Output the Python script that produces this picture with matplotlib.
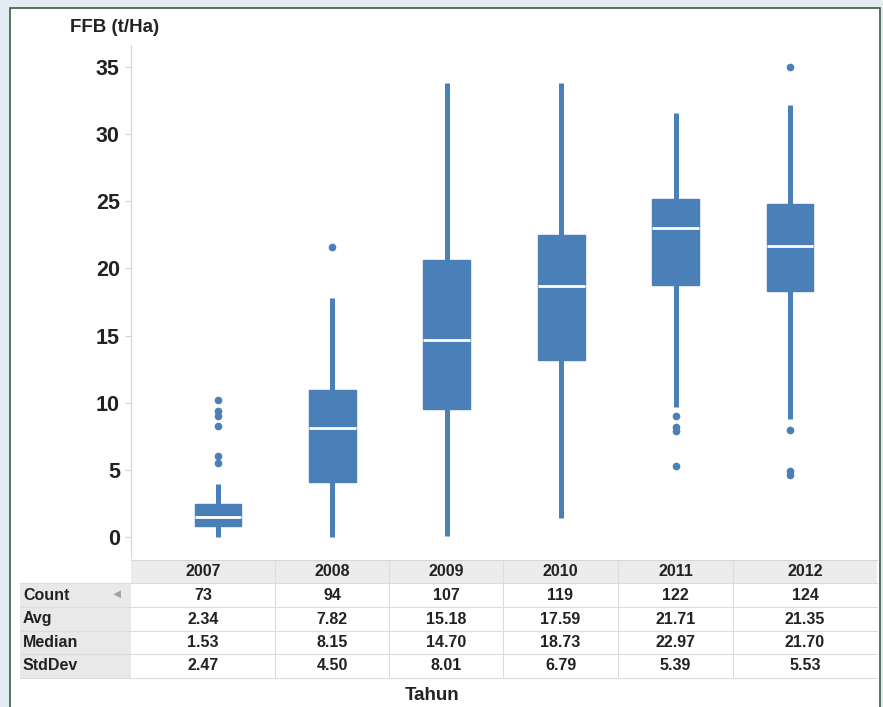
import matplotlib
matplotlib.use('Agg')
import matplotlib.pyplot as plt
from matplotlib.patches import Rectangle

plt.rcParams['font.family'] = ['Liberation Sans', 'DejaVu Sans']

# box plot statistics per year
years = ['2007', '2008', '2009', '2010', '2011', '2012']
whis_lo = [0.0, 0.0, 0.1, 1.4, 9.7, 8.8]
q1 = [0.82, 4.1, 9.5, 13.2, 18.8, 18.3]
median = [1.5, 8.1, 14.7, 18.7, 23.0, 21.7]
q3 = [2.46, 10.95, 20.6, 22.5, 25.2, 24.8]
whis_hi = [3.95, 17.8, 33.8, 33.8, 31.6, 32.2]
fliers = [
    [10.2, 9.4, 9.0, 8.3, 6.0, 5.5],
    [21.6],
    [],
    [],
    [9.0, 8.2, 7.9, 5.3],
    [35.0, 8.0, 4.9, 4.6],
]

# summary table
row_names = ['Count', 'Avg', 'Median', 'StdDev']
counts = ['73', '94', '107', '119', '122', '124']
avgs = ['2.34', '7.82', '15.18', '17.59', '21.71', '21.35']
medians = ['1.53', '8.15', '14.70', '18.73', '22.97', '21.70']
stddevs = ['2.47', '4.50', '8.01', '6.79', '5.39', '5.53']

box_color = '#4a7fb8'
text_color = '#222222'
W, H = 883, 707

fig = plt.figure(figsize=(W / 100, H / 100), dpi=100)
fig.patch.set_facecolor('#e3ebf3')

# background layer in pixel coordinates: panel, title, table
bg = fig.add_axes([0, 0, 1, 1], zorder=0)
bg.set_xlim(0, W)
bg.set_ylim(H, 0)
bg.axis('off')
bg.add_patch(Rectangle((10, 8), 870, 720, facecolor='white', edgecolor='#3b5e3b', lw=1.2))
bg.text(70, 27, 'FFB (t/Ha)', fontsize=13.5, fontweight='bold', color=text_color, va='center', ha='left')

# table
col_edges = [131, 275, 389, 503, 618, 733, 877]
row_edges = [583, 607, 631, 654, 678]
bg.add_patch(Rectangle((131, 560), 877 - 131, 23, facecolor='#ececec', edgecolor='none'))
bg.add_patch(Rectangle((20, 583), 111, 95, facecolor='#e9e9e9', edgecolor='none'))
for y in row_edges:
    bg.plot([20, 877], [y, y], color='#dcdcdc', lw=0.8)
bg.plot([131, 877], [560, 560], color='#d6d6d6', lw=0.8)
for x in col_edges[1:-1]:
    bg.plot([x, x], [560, 678], color='#dcdcdc', lw=0.8)

rows = [counts, avgs, medians, stddevs]
fs = 11.5
for i, yr in enumerate(years):
    cx = (col_edges[i] + col_edges[i + 1]) / 2
    bg.text(cx, 572, yr, fontsize=fs, fontweight='bold', color=text_color, ha='center', va='center')
    for j, vals in enumerate(rows):
        cy = (row_edges[j] + row_edges[j + 1]) / 2
        bg.text(cx, cy, vals[i], fontsize=fs, fontweight='bold', color=text_color, ha='center', va='center')
for j, name in enumerate(row_names):
    cy = (row_edges[j] + row_edges[j + 1]) / 2
    bg.text(23, cy, name, fontsize=fs, fontweight='bold', color=text_color, ha='left', va='center')
bg.text(117, (row_edges[0] + row_edges[1]) / 2, '\u25c4', fontsize=9, color='#a0a0a0', ha='center', va='center')
bg.text(432, 696, 'Tahun', fontsize=13.5, fontweight='bold', color=text_color, ha='center', va='center')

# main box plot
ax = fig.add_axes([131 / W, (H - 558) / H, (877 - 131) / W, (558 - 45) / H], zorder=1)
ax.set_facecolor('none')
stats = []
for i in range(len(years)):
    stats.append(dict(label=years[i], whislo=whis_lo[i], q1=q1[i], med=median[i],
                      q3=q3[i], whishi=whis_hi[i], fliers=fliers[i]))
ax.bxp(stats, positions=range(len(years)), widths=0.41, patch_artist=True, showcaps=False,
       boxprops=dict(facecolor=box_color, edgecolor=box_color, lw=1),
       whiskerprops=dict(color=box_color, lw=3.6, solid_capstyle='butt'),
       medianprops=dict(color='white', lw=2),
       flierprops=dict(marker='o', markerfacecolor=box_color, markeredgecolor=box_color, markersize=4.5))

ax.set_xlim(-0.76, 5.76)
ax.set_ylim(-1.56, 36.64)
ax.set_yticks(range(0, 36, 5))
ax.set_xticks([])
for s in ['top', 'right', 'bottom']:
    ax.spines[s].set_visible(False)
ax.spines['left'].set_color('#d4d4d4')
ax.tick_params(axis='y', length=4, color='#d4d4d4', pad=4, labelsize=15.5, labelcolor=text_color)
for lbl in ax.get_yticklabels():
    lbl.set_fontweight('bold')

fig.savefig('out.png', dpi=100, facecolor=fig.get_facecolor())
